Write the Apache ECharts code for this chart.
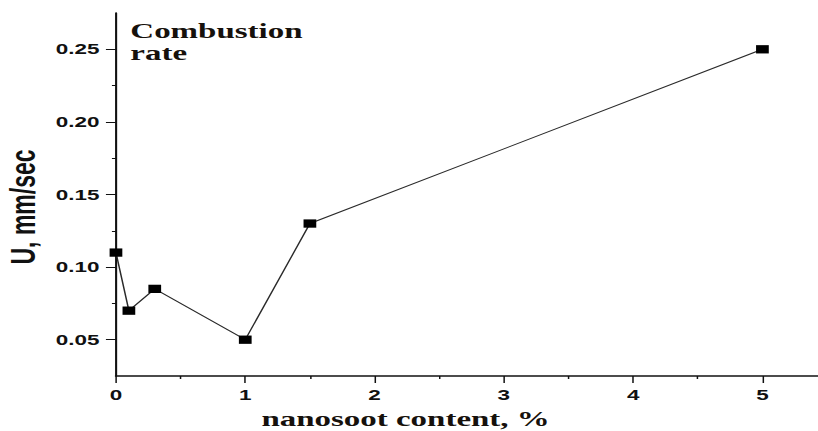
<!DOCTYPE html>
<html>
<head>
<meta charset="utf-8">
<script src="https://cdn.jsdelivr.net/npm/echarts@6/dist/echarts.min.js"></script>
<style>
  html, body { margin: 0; padding: 0; background: #fff; overflow: hidden; }
  /* the figure is drawn narrow and stretched horizontally */
  #chart { width: 546px; height: 431px; transform: scaleX(1.4982); transform-origin: 0 0; }
</style>
</head>
<body>
<div id="chart"></div>
<script>
// nanosoot content (%) and combustion rate (mm/sec)
const contents = [0, 0.1, 0.3, 1, 1.5, 5];
const rates = [0.11, 0.07, 0.085, 0.05, 0.13, 0.25];

// axis ticks
const xTicks = [0, 1, 2, 3, 4, 5];
const yMajorTicks = [0.05, 0.10, 0.15, 0.20, 0.25];
const yMinorTicks = [0.075, 0.125, 0.175, 0.225];

const titleText = 'Combustion\nrate';
const xName = 'nanosoot content, %';
const yName = 'U, mm/sec';

const ink = '#111';
const tickFont = { fontFamily: 'Liberation Sans, Arial, sans-serif', fontWeight: 'bold', fontSize: 15, color: ink };

const chart = echarts.init(document.getElementById('chart'), null, { renderer: 'svg' });

chart.setOption({
  animation: false,
  backgroundColor: '#fff',
  title: {
    text: titleText,
    left: 87,
    top: 20,
    padding: 0,
    textStyle: { fontFamily: 'Liberation Serif, Times New Roman, serif', fontWeight: 'bold', fontSize: 22, lineHeight: 22, color: '#16110c' }
  },
  grid: { left: 77.4, right: 0, top: 13, bottom: 55, containLabel: false, outerBoundsMode: 'none' },
  xAxis: {
    type: 'value',
    min: 0,
    max: 5.43,
    interval: 1,
    name: xName,
    nameLocation: 'middle',
    nameGap: 32,
    nameTextStyle: { fontFamily: 'Liberation Serif, Times New Roman, serif', fontWeight: 'bold', fontSize: 22, color: '#16110c', padding: [0, 82, 0, 0] },
    axisLine: { show: true, lineStyle: { color: ink, width: 1.6 } },
    axisTick: { show: true, length: 7, lineStyle: { color: ink, width: 1 } },
    minorTick: { show: true, splitNumber: 2, length: 3, lineStyle: { color: ink, width: 1 } },
    axisLabel: { ...tickFont, margin: 11, customValues: xTicks },
    splitLine: { show: false }
  },
  yAxis: [
    {
      type: 'value',
      min: 0.025,
      max: 0.275,
      interval: 0.025,
      name: yName,
      nameLocation: 'middle',
      nameGap: 50,
      nameTextStyle: { fontFamily: 'Liberation Sans Narrow, Arial Narrow, Liberation Sans, sans-serif', fontWeight: 'bold', fontSize: 23, color: ink, padding: [0, 25, 0, 0] },
      axisLine: { show: true, lineStyle: { color: ink, width: 1.4 } },
      axisTick: { show: true, length: 6.7, customValues: yMajorTicks, lineStyle: { color: ink, width: 1 } },
      axisLabel: { ...tickFont, margin: 11, customValues: yMajorTicks, formatter: v => v.toFixed(2) },
      splitLine: { show: false }
    },
    {
      type: 'value',
      min: 0.025,
      max: 0.275,
      interval: 0.025,
      position: 'left',
      axisLine: { show: false },
      axisTick: { show: true, length: 2.7, customValues: yMinorTicks, lineStyle: { color: ink, width: 1 } },
      axisLabel: { show: false },
      splitLine: { show: false }
    }
  ],
  series: [{
    type: 'line',
    data: contents.map((c, i) => [c, rates[i]]),
    symbol: 'rect',
    symbolSize: [8.5, 8.3],
    clip: false,
    lineStyle: { color: '#2a2a2a', width: 1 },
    itemStyle: { color: '#000' },
    z: 5
  }]
});
</script>
</body>
</html>
